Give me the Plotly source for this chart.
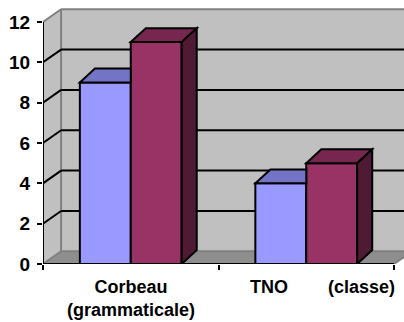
import plotly.graph_objects as go

# Data
categories = ["Corbeau (grammaticale)", "TNO (classe)"]
series_a = [9, 4]
series_b = [11, 5]
y_ticks = [0, 2, 4, 6, 8, 10, 12]

# Styling
BLUE_FRONT, BLUE_TOP = "#9999FF", "#7474C6"
PLUM_FRONT, PLUM_TOP, PLUM_SIDE = "#993366", "#76264F", "#4E1A34"
WALL, FLOOR, EDGE = "#C0C0C0", "#8E8E8E", "#808080"
FONT = "Arial, Liberation Sans, sans-serif"

BAR_W = 0.29          # width of one bar in category units
XR = [-0.5, 1.557]    # x range (extends past the last category for the depth)
YR = [0, 12.89]
YMAX = 12
# depth offsets (data units) for the walls and for the bar boxes
DXW, DYW = 0.103, 0.63
DXB, DYB = 0.086, 0.69

x_pos = list(range(len(categories)))
x_left, x_right = -0.5, len(categories) - 0.5
far = XR[1] + 0.5


def poly(pts):
    return "M " + " L ".join(f"{x},{y}" for x, y in pts) + " Z"


shapes = []
# back wall, side wall, floor
shapes.append(dict(type="path", path=poly([(x_left + DXW, DYW), (far, DYW), (far, YMAX + DYW),
                                            (x_left + DXW, YMAX + DYW)]),
                   fillcolor=WALL, line=dict(width=0), layer="below"))
shapes.append(dict(type="path", path=poly([(x_left, 0), (x_left + DXW, DYW), (x_left + DXW, YMAX + DYW),
                                            (x_left, YMAX)]),
                   fillcolor=WALL, line=dict(width=0), layer="below"))
shapes.append(dict(type="path", path=poly([(x_left, 0), (x_right, 0), (x_right + DXW, DYW),
                                            (x_left + DXW, DYW)]),
                   fillcolor=FLOOR, line=dict(width=0), layer="below"))

# gray wall borders
edge_lines = [
    ((x_left + DXW, DYW), (x_left + DXW, YMAX + DYW)),
    ((x_left + DXW, YMAX + DYW), (far, YMAX + DYW)),
    ((x_left, YMAX), (x_left + DXW, YMAX + DYW)),
    ((x_left + DXW, DYW), (far, DYW)),
    ((x_left, 0), (x_left + DXW, DYW)),
    ((x_right, 0), (x_right + DXW, DYW)),
]
for (x0, y0), (x1, y1) in edge_lines:
    shapes.append(dict(type="line", x0=x0, y0=y0, x1=x1, y1=y1,
                       line=dict(color=EDGE, width=2), layer="below"))

# gridlines: diagonal on the side wall, horizontal on the back wall
for v in y_ticks[1:-1]:
    shapes.append(dict(type="line", x0=x_left, y0=v, x1=x_left + DXW, y1=v + DYW,
                       line=dict(color="black", width=2), layer="below"))
    shapes.append(dict(type="line", x0=x_left + DXW, y0=v + DYW, x1=far, y1=v + DYW,
                       line=dict(color="black", width=2), layer="below"))

# axis lines
shapes.append(dict(type="line", x0=x_left, y0=0, x1=x_left, y1=YMAX,
                   line=dict(color="black", width=2)))
shapes.append(dict(type="line", x0=x_left, y0=0, x1=x_right, y1=0,
                   line=dict(color="black", width=2)))

# box tops and sides of the bars
blk = dict(color="black", width=2)
for i, (a, b) in enumerate(zip(series_a, series_b)):
    # first bar: its top face is partly hidden behind the second bar
    x0, x1 = i - BAR_W, i
    shapes.append(dict(type="path",
                       path=poly([(x0, a), (x1, a), (x1, a + DYB), (x0 + DXB, a + DYB)]),
                       fillcolor=BLUE_TOP, line=blk))
    # second bar: top and right side
    x0, x1 = i, i + BAR_W
    shapes.append(dict(type="path",
                       path=poly([(x0, b), (x1, b), (x1 + DXB, b + DYB), (x0 + DXB, b + DYB)]),
                       fillcolor=PLUM_TOP, line=blk))
    shapes.append(dict(type="path",
                       path=poly([(x1, 0), (x1 + DXB, DYB), (x1 + DXB, b + DYB), (x1, b)]),
                       fillcolor=PLUM_SIDE, line=blk))

fig = go.Figure()
fig.add_trace(go.Bar(x=x_pos, y=series_a, marker=dict(color=BLUE_FRONT, line=blk),
                     hoverinfo="skip"))
fig.add_trace(go.Bar(x=x_pos, y=series_b, marker=dict(color=PLUM_FRONT, line=blk),
                     hoverinfo="skip"))

# category labels
label_font = dict(family=FONT, size=18, color="black")
nb = "\u00a0"
label_texts = [
    "<b>" + categories[0].replace(" ", "</b><br><b>") + "</b>",
    "<b>" + categories[1].replace(" ", nb * 8) + "</b>",
]
label_shift = [0, 16]
annotations = [dict(x=x, y=0, xref="x", yref="y", text=t, showarrow=False,
                    xanchor="center", yanchor="top", yshift=-11, xshift=s,
                    font=label_font, align="center")
               for x, t, s in zip(x_pos, label_texts, label_shift)]

fig.update_layout(
    width=404, height=322,
    margin=dict(l=43, r=0, t=4, b=58),
    paper_bgcolor="white", plot_bgcolor="white",
    barmode="group", bargap=1 - 2 * BAR_W, bargroupgap=0,
    showlegend=False,
    shapes=shapes, annotations=annotations,
    xaxis=dict(range=XR, showgrid=False, zeroline=False, showline=False,
               tickvals=x_pos, showticklabels=False, ticks="",
               minor=dict(tickvals=[x_left + k for k in range(len(categories) + 1)],
                          ticks="outside", ticklen=5, tickwidth=2, tickcolor="black",
                          showgrid=False)),
    yaxis=dict(range=YR, showgrid=False, zeroline=False, showline=False,
               tickvals=y_ticks, ticktext=[f"<b>{v}</b>" for v in y_ticks],
               ticks="outside", ticklen=5, tickwidth=2,
               tickcolor="black", ticklabelstandoff=3,
               tickfont=dict(family=FONT, size=19, color="black")),
)

fig.write_html("out.html")
